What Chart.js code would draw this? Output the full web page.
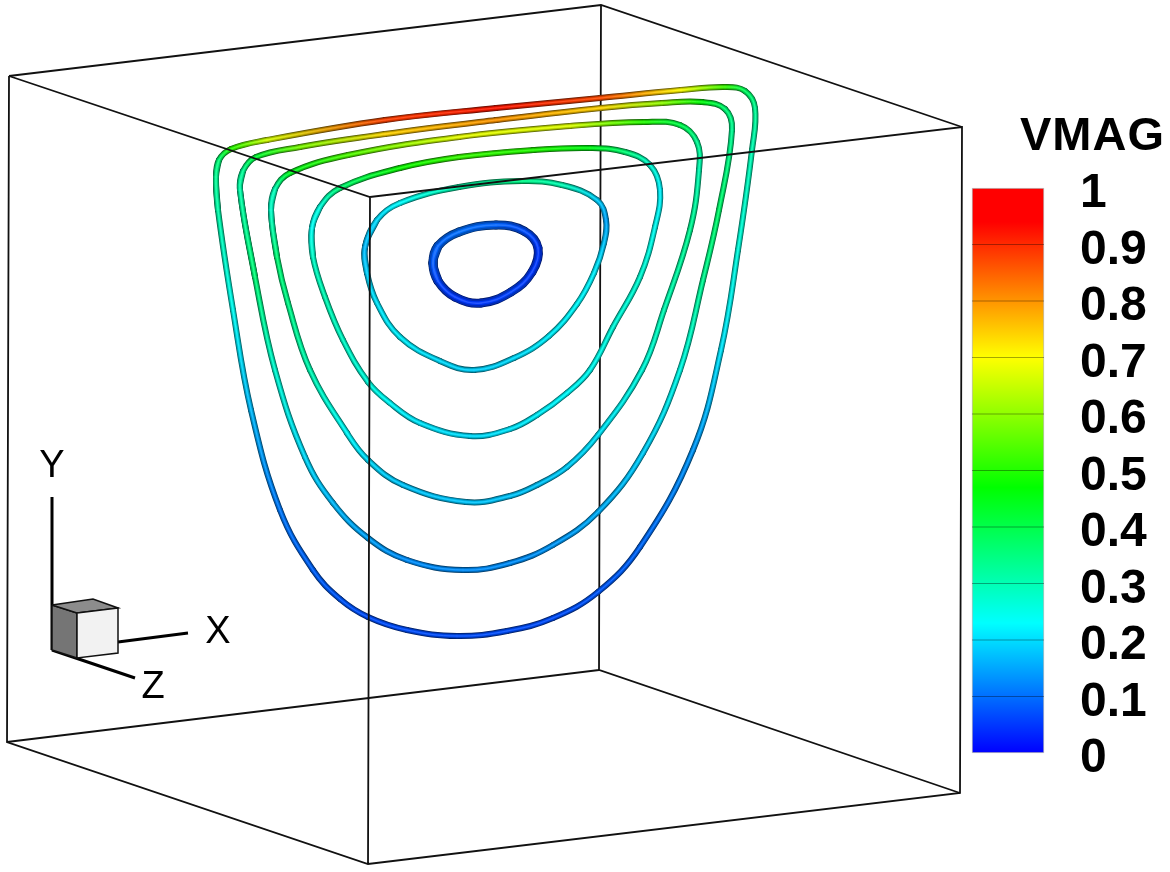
<!DOCTYPE html>
<html>
<head>
<meta charset="utf-8">
<title>VMAG streamlines</title>
<script src="https://cdn.jsdelivr.net/npm/chart.js@4"></script>
<style>
    html, body { margin: 0; padding: 0; background: #fff; }
    canvas { display: block; }
</style>
</head>
<body>
<canvas id="vmagChart" width="1170" height="872"></canvas>
<script>
// Values, in picture units
const legendTitle = "VMAG";
const legendLevels = [0, 0.1, 0.2, 0.3, 0.4, 0.5, 0.6, 0.7, 0.8, 0.9, 1];
const legendLabels = ["0", "0.1", "0.2", "0.3", "0.4", "0.5", "0.6", "0.7", "0.8", "0.9", "1"];
const axisNames = ["X", "Y", "Z"];

// Colour map stops
const mapStops = [0, 0.23, 0.47, 0.7, 0.94, 1];
const mapColors = [[0, 0, 255], [0, 255, 255], [0, 255, 0], [255, 255, 0], [255, 0, 0], [255, 0, 0]];

// Streamlines, outermost first
const line1X = [216, 219, 231, 267, 385, 496, 600, 681, 725, 745, 755, 752, 738, 721, 693, 640, 598, 553, 507, 457, 407, 368, 340, 313, 280, 251, 233, 218];
const line1Y = [177, 160, 149, 140, 120, 108, 98, 90, 87, 91, 108, 150, 250, 350, 450, 547, 592, 618, 631, 636, 630, 617, 599, 570, 510, 410, 310, 210];
const line1V = [0.33, 0.36, 0.5, 0.66, 0.88, 0.92, 0.87, 0.7, 0.52, 0.38, 0.33, 0.3, 0.26, 0.21, 0.14, 0.095, 0.08, 0.07, 0.07, 0.07, 0.07, 0.07, 0.08, 0.09, 0.11, 0.17, 0.24, 0.31];

const line2X = [240, 243, 256, 300, 385, 496, 601, 662, 702, 725, 732, 719, 703, 680, 643, 598, 553, 510, 463, 407, 368, 333, 305, 275, 255];
const line2Y = [190, 171, 157, 147, 134, 120, 108, 103, 102, 109, 130, 210, 280, 370, 453, 512, 545, 563, 570, 560, 538, 503, 457, 370, 277];
const line2V = [0.31, 0.33, 0.42, 0.58, 0.74, 0.8, 0.74, 0.6, 0.46, 0.36, 0.33, 0.37, 0.33, 0.25, 0.19, 0.16, 0.14, 0.13, 0.13, 0.13, 0.15, 0.17, 0.2, 0.27, 0.36];

const line3X = [271, 275, 290, 348, 459, 570, 644, 680, 697, 699, 690, 664, 642, 598, 567, 537, 510, 466, 403, 368, 347, 310, 288, 277];
const line3Y = [210, 189, 173, 155, 137, 126, 122, 125, 142, 170, 230, 310, 370, 435, 467, 485, 496, 502, 485, 460, 433, 370, 303, 257];
const line3V = [0.28, 0.3, 0.44, 0.54, 0.68, 0.67, 0.5, 0.4, 0.33, 0.3, 0.33, 0.3, 0.26, 0.21, 0.19, 0.18, 0.18, 0.18, 0.18, 0.2, 0.23, 0.3, 0.34, 0.36];

const line4X = [312, 320, 340, 400, 459, 533, 590, 625, 650, 660, 655, 640, 613, 590, 567, 537, 510, 470, 420, 390, 368, 343, 325, 313];
const line4Y = [228, 207, 188, 168, 157, 150, 148, 152, 165, 190, 227, 277, 327, 370, 393, 415, 429, 436, 423, 403, 382, 340, 297, 257];
const line4V = [0.24, 0.26, 0.36, 0.48, 0.52, 0.5, 0.45, 0.36, 0.27, 0.22, 0.24, 0.27, 0.26, 0.24, 0.23, 0.22, 0.21, 0.2, 0.21, 0.23, 0.26, 0.28, 0.3, 0.28];

const line5X = [365, 377, 400, 459, 522, 562, 597, 606, 604, 594, 577, 549, 514, 474, 440, 400, 377, 367];
const line5Y = [247, 220, 203, 187, 181, 185, 200, 220, 243, 273, 304, 336, 358, 370, 361, 337, 303, 273];
const line5V = [0.17, 0.2, 0.23, 0.31, 0.34, 0.3, 0.19, 0.15, 0.18, 0.22, 0.23, 0.22, 0.2, 0.19, 0.2, 0.22, 0.21, 0.19];

const line6X = [433, 438, 459, 496, 524, 538, 532, 511, 481, 455, 438];
const line6Y = [263, 246, 232, 225, 231, 248, 272, 292, 303, 297, 281];
const line6V = [0.08, 0.09, 0.1, 0.09, 0.07, 0.05, 0.05, 0.06, 0.05, 0.05, 0.06];

// Bounding box edges, null breaks the line
const boxBackX = [9, 601, 962, null, 601, 599, null, 7, 599, 960];
const boxBackY = [76, 5, 127, null, 5, 670, null, 742, 670, 793];
const boxFrontX = [9, 370, 962, 960, 368, 7, 9, null, 370, 368];
const boxFrontY = [76, 197, 127, 793, 864, 742, 76, null, 197, 864];

// Orientation triad
const triadX = [52, 52, null, 118, 188, null, 52, 135];
const triadY = [497, 650, null, 642, 633, null, 650, 678];
const cubeLeftX = [52, 77, 77, 52, 52];
const cubeLeftY = [605, 613, 658, 650, 605];
const cubeTopX = [52, 93, 118, 77, 52];
const cubeTopY = [605, 599, 608, 613, 605];
const cubeFrontX = [77, 118, 118, 77, 77];
const cubeFrontY = [613, 608, 653, 658, 613];

const streamlines = [
    { x: line1X, y: line1Y, v: line1V, width: 6 },
    { x: line2X, y: line2Y, v: line2V, width: 6 },
    { x: line3X, y: line3Y, v: line3V, width: 6 },
    { x: line4X, y: line4Y, v: line4V, width: 6 },
    { x: line5X, y: line5Y, v: line5V, width: 6 },
    { x: line6X, y: line6Y, v: line6V, width: 9 }
];

// Look up the colour map, shade < 0 goes to black and shade > 0 to white
function mapColor(v, shade) {
    let i = 0;
    while (i < mapStops.length - 2 && v > mapStops[i + 1]) i++;
    const t = Math.min(1, (v - mapStops[i]) / (mapStops[i + 1] - mapStops[i]));
    const rgb = mapColors[i].map((c, k) => c + (mapColors[i + 1][k] - c) * t);
    const target = shade < 0 ? 0 : 255;
    const amount = Math.abs(shade);
    const out = rgb.map(c => Math.round(c + (target - c) * amount));
    return `rgb(${out[0]}, ${out[1]}, ${out[2]})`;
}

function toPoints(xs, ys) {
    return xs.map((x, i) => ({ x: x, y: x === null ? null : ys[i] }));
}

// Tube layer: a closed curve is wrapped over its start so the smoothing has no corner
function tubeLayer(line, width, shade, order) {
    const n = line.x.length;
    const idx = [n - 1, ...line.x.map((_, i) => i), 0, 1];
    return {
        type: "line",
        data: idx.map(i => ({ x: line.x[i], y: line.y[i] })),
        tension: 0.4,
        borderWidth: width,
        borderCapStyle: "round",
        borderJoinStyle: "round",
        pointRadius: 0,
        fill: false,
        order: order,
        segment: {
            borderColor: ctx => {
                const c0 = mapColor(line.v[idx[ctx.p0DataIndex]], shade);
                const c1 = mapColor(line.v[idx[ctx.p1DataIndex]], shade);
                if (!isFinite(ctx.p0.x + ctx.p0.y + ctx.p1.x + ctx.p1.y)) return c0;
                const g = ctx.chart.ctx.createLinearGradient(ctx.p0.x, ctx.p0.y, ctx.p1.x, ctx.p1.y);
                g.addColorStop(0, c0);
                g.addColorStop(1, c1);
                return g;
            }
        }
    };
}

function edgeLines(xs, ys, color, width, order) {
    return {
        type: "line",
        data: toPoints(xs, ys),
        borderColor: color,
        borderWidth: width,
        pointRadius: 0,
        tension: 0,
        fill: false,
        spanGaps: false,
        order: order
    };
}

function cubeFace(xs, ys, color, order) {
    return {
        type: "line",
        data: toPoints(xs, ys),
        borderColor: "#111",
        backgroundColor: color,
        borderWidth: 1.5,
        pointRadius: 0,
        tension: 0,
        fill: "shape",
        order: order
    };
}

const datasets = [];

// Lower order is drawn on top
datasets.push(edgeLines(boxBackX, boxBackY, "#111", 1.8, 100));
streamlines.forEach((line, i) => {
    datasets.push(tubeLayer(line, line.width, -0.6, 90 - i * 4));
    datasets.push(tubeLayer(line, line.width - 1.4, -0.28, 89 - i * 4));
    datasets.push(tubeLayer(line, line.width * 0.42, -0.05, 88 - i * 4));
    datasets.push(tubeLayer(line, line.width * 0.16, 0.15, 87 - i * 4));
});
datasets.push(edgeLines(boxFrontX, boxFrontY, "#111", 1.8, 20));
datasets.push(edgeLines(triadX, triadY, "#000", 3, 15));
datasets.push(cubeFace(cubeLeftX, cubeLeftY, "#757575", 12));
datasets.push(cubeFace(cubeTopX, cubeTopY, "#8c8c8c", 11));
datasets.push(cubeFace(cubeFrontX, cubeFrontY, "#f2f2f2", 10));

// Colour bar on the VMAG axis
datasets.push({
    type: "bar",
    data: [{ x: 1008, y: [legendLevels[0], legendLevels[legendLevels.length - 1]] }],
    xAxisID: "x",
    yAxisID: "vmag",
    barThickness: 72,
    borderWidth: 1,
    borderSkipped: false,
    borderColor: "#bdbdbd",
    backgroundColor: ctx => {
        const scale = ctx.chart.scales.vmag;
        const y0 = scale ? scale.getPixelForValue(0) : NaN;
        const y1 = scale ? scale.getPixelForValue(1) : NaN;
        if (!isFinite(y0 + y1)) return "#00ff00";
        const g = ctx.chart.ctx.createLinearGradient(0, y0, 0, y1);
        mapStops.forEach(s => g.addColorStop(s, mapColor(s, 0)));
        return g;
    },
    order: 6
});

// Level lines across the colour bar
const levelX = [];
const levelY = [];
legendLevels.slice(1, -1).forEach(v => {
    levelX.push(972, 1044, null);
    levelY.push(v, v, null);
});
datasets.push({
    type: "line",
    data: toPoints(levelX, levelY),
    yAxisID: "vmag",
    borderColor: "rgba(0, 0, 0, 0.35)",
    borderWidth: 1,
    pointRadius: 0,
    tension: 0,
    fill: false,
    order: 5
});

// Text on the canvas: legend title, legend labels, axis letters
const textPlugin = {
    id: "textPlugin",
    afterDatasetsDraw(chart) {
        const c = chart.ctx;
        const xs = chart.scales.x;
        const ys = chart.scales.y;
        const vmag = chart.scales.vmag;
        c.save();
        c.fillStyle = "#000";
        c.textBaseline = "middle";
        c.textAlign = "left";
        c.letterSpacing = "1px";
        c.font = 'bold 47px "Liberation Sans"';
        c.fillText(legendTitle, xs.getPixelForValue(1020), ys.getPixelForValue(137));
        c.letterSpacing = "0px";
        c.font = 'bold 48px "Liberation Sans"';
        legendLevels.forEach((v, i) => {
            c.fillText(legendLabels[i], xs.getPixelForValue(1080), vmag.getPixelForValue(v) + 6);
        });
        c.textAlign = "center";
        c.font = '38px "Liberation Sans"';
        c.fillText(axisNames[0], xs.getPixelForValue(218), ys.getPixelForValue(633));
        c.fillText(axisNames[1], xs.getPixelForValue(52), ys.getPixelForValue(467));
        c.fillText(axisNames[2], xs.getPixelForValue(153), ys.getPixelForValue(688));
        c.restore();
    }
};

new Chart(document.getElementById("vmagChart").getContext("2d"), {
    type: "line",
    data: { datasets: datasets },
    plugins: [textPlugin],
    options: {
        responsive: false,
        animation: false,
        layout: { padding: 0 },
        plugins: {
            legend: { display: false },
            tooltip: { enabled: false }
        },
        scales: {
            x: { type: "linear", display: false, min: 0, max: 1170, offset: false },
            y: { type: "linear", display: false, min: 0, max: 872, reverse: true },
            // 0 sits at 753 and 1 at 188 in picture units
            vmag: { type: "linear", display: false, min: -119 / 565, max: 753 / 565 }
        }
    }
});
</script>
</body>
</html>
